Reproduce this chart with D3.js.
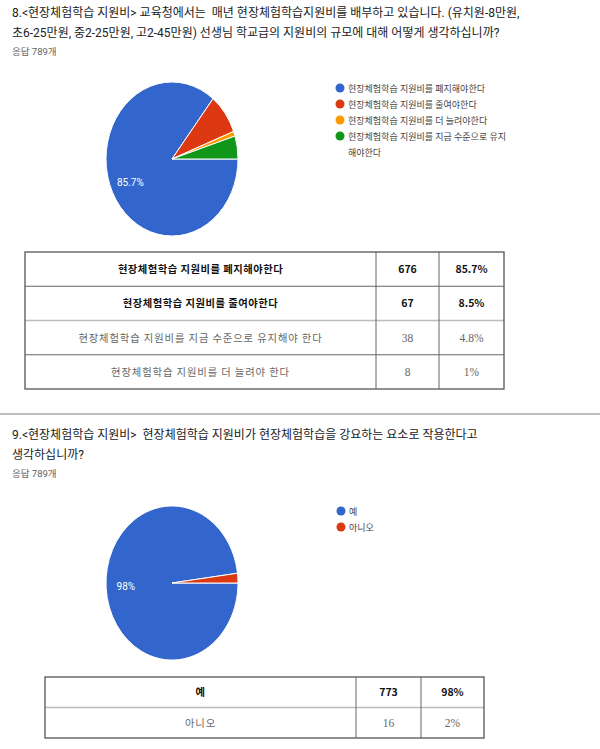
<!DOCTYPE html>
<html>
<head>
<meta charset="utf-8">
<script src="https://cdn.jsdelivr.net/npm/d3@7"></script>
<style>
  body { margin: 0; background: #fff; }
  svg { display: block; }
</style>
</head>
<body>
<svg width="600" height="749"></svg>
<script>
// 8번 문항
const q8Title = ['8.<현장체험학습 지원비> 교육청에서는  매년 현장체험학습지원비를 배부하고 있습니다. (유치원-8만원,',
                 '초6-25만원, 중2-25만원, 고2-45만원) 선생님 학교급의 지원비의 규모에 대해 어떻게 생각하십니까?'];
const q8Legend = ['현장체험학습 지원비를 폐지해야한다', '현장체험학습 지원비를 줄여야한다',
                  '현장체험학습 지원비를 더 늘려야한다', '현장체험학습 지원비를 지금 수준으로 유지|해야한다'];
const q8Counts = [676, 67, 8, 38];
const q8TableLabels = ['현장체험학습 지원비를 폐지해야한다', '현장체험학습 지원비를 줄여야한다',
                       '현장체험학습 지원비를 지금 수준으로 유지해야 한다', '현장체험학습 지원비를 더 늘려야 한다'];
const q8TableCounts = [676, 67, 38, 8];
const q8TablePct = ['85.7%', '8.5%', '4.8%', '1%'];

// 9번 문항
const q9Title = ['9.<현장체험학습 지원비>  현장체험학습 지원비가 현장체험학습을 강요하는 요소로 작용한다고',
                 '생각하십니까?'];
const q9Legend = ['예', '아니오'];
const q9Counts = [773, 16];
const q9TableLabels = ['예', '아니오'];
const q9TableCounts = [773, 16];
const q9TablePct = ['98%', '2%'];

const responses = '응답 789개';
const colors = ['#3366cc', '#dc3912', '#ff9900', '#109618'];

const svg = d3.select('svg');
const kr = '"Roboto", "Noto Sans CJK KR", sans-serif';

function drawHeader(y0, lines) {
    lines.forEach((t, i) => {
        svg.append('text')
            .attr('x', 12).attr('y', y0 + i * 20)
            .attr('font-family', kr).attr('font-size', 12)
            .attr('fill', '#202124')
            .style('white-space', 'pre')
            .text(t);
    });
    svg.append('text')
        .attr('x', 12).attr('y', y0 + lines.length * 20 - 2)
        .attr('font-family', kr).attr('font-size', 9.5)
        .attr('fill', '#5f6368')
        .text(responses);
}

function drawPie(cx, cy, counts, legend, lx, ly) {
    const ry = 77, rx = 66;
    const total = d3.sum(counts);
    const pie = d3.pie().sort(null)
        .startAngle(Math.PI / 2).endAngle(Math.PI / 2 + 2 * Math.PI);
    const arcs = pie(counts);
    const arc = d3.arc().innerRadius(0).outerRadius(ry);
    const g = svg.append('g')
        .attr('transform', `translate(${cx},${cy}) scale(${rx / ry},1)`);
    g.selectAll('path')
        .data(arcs)
        .enter()
        .append('path')
        .attr('d', arc)
        .attr('fill', (d, i) => colors[i])
        .attr('stroke', '#fff')
        .attr('stroke-width', 1)
        .attr('vector-effect', 'non-scaling-stroke');

    const labelArc = d3.arc().innerRadius(ry * 0.7).outerRadius(ry * 0.7);
    svg.selectAll(null)
        .data(arcs.filter(d => d.value / total > 0.2))
        .enter()
        .append('text')
        .attr('x', d => cx + labelArc.centroid(d)[0] * rx / ry)
        .attr('y', d => cy + labelArc.centroid(d)[1] + 4)
        .attr('text-anchor', 'middle')
        .attr('font-family', kr).attr('font-size', 10)
        .attr('fill', '#fff')
        .text(d => d3.format('.3')(d.value / total * 100).replace(/\.0$/, '') + '%');

    // 범례
    let row = 0;
    legend.forEach((t, i) => {
        const parts = t.split('|');
        svg.append('circle')
            .attr('cx', lx).attr('cy', ly + row * 16)
            .attr('r', 4.5)
            .attr('fill', colors[i]);
        parts.forEach((p, j) => {
            svg.append('text')
                .attr('x', lx + 8).attr('y', ly + (row + j) * 16 + 3.5)
                .attr('font-family', kr).attr('font-size', 9)
                .attr('fill', '#444')
                .text(p);
        });
        row += parts.length === 1 ? 1 : 0.95 + (parts.length - 1) * 1.05;
    });
}

function drawTable(x0, x1, x2, x3, y0, rowH, labels, counts, pcts, boldRows) {
    const n = labels.length;
    const g = svg.append('g');
    for (let i = 1; i < n; i++) {
        g.append('line')
            .attr('x1', x0).attr('x2', x3)
            .attr('y1', y0 + i * rowH).attr('y2', y0 + i * rowH)
            .attr('stroke', i === boldRows ? '#bbb' : '#666')
            .attr('stroke-width', i === boldRows ? 1.5 : 1);
    }
    [x1, x2].forEach(x => {
        g.append('line')
            .attr('x1', x).attr('x2', x)
            .attr('y1', y0).attr('y2', y0 + n * rowH)
            .attr('stroke', '#666');
    });
    g.append('rect')
        .attr('x', x0).attr('y', y0)
        .attr('width', x3 - x0).attr('height', n * rowH)
        .attr('fill', 'none')
        .attr('stroke', '#555').attr('stroke-width', 1.3);

    labels.forEach((t, i) => {
        const bold = i < boldRows;
        const y = y0 + i * rowH + rowH / 2 + 4;
        const cols = [[(x0 + x1) / 2, t], [(x1 + x2) / 2, counts[i]], [(x2 + x3) / 2, pcts[i]]];
        cols.forEach(([cx, v], j) => {
            g.append('text')
                .attr('x', cx).attr('y', y)
                .attr('text-anchor', 'middle')
                .attr('font-family', (bold || j === 0) ? '"Noto Sans CJK KR", sans-serif'
                    : '"Liberation Serif", serif')
                .attr('font-size', j === 0 ? 10.3 : (bold ? 10.5 : 11.5))
                .attr('font-weight', bold ? 'bold' : 'normal')
                .attr('letter-spacing', j === 0 ? (bold ? 0.5 : 0.9) : 0)
                .attr('fill', bold ? '#111' : '#666')
                .text(v);
        });
    });
}

// 8번
drawHeader(17, q8Title);
drawPie(172, 159, q8Counts, q8Legend, 340, 88);
drawTable(25, 376, 439, 504, 252, 34.25, q8TableLabels, q8TableCounts, q8TablePct, 2);

// 구분선
svg.append('line')
    .attr('x1', 0).attr('x2', 600)
    .attr('y1', 414).attr('y2', 414)
    .attr('stroke', '#aaa').attr('stroke-width', 1.5);

// 9번
drawHeader(439, q9Title);
drawPie(172, 583, q9Counts, q9Legend, 341, 511);
drawTable(45, 356, 421, 484, 677, 30.5, q9TableLabels, q9TableCounts, q9TablePct, 1);
</script>
</body>
</html>
